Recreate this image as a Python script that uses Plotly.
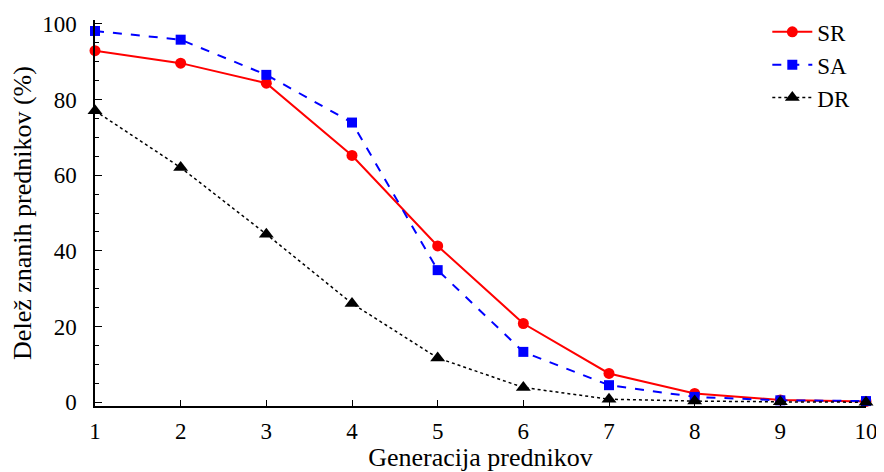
import plotly.graph_objects as go

generations = [1, 2, 3, 4, 5, 6, 7, 8, 9, 10]
sr = [92.9, 89.6, 84.3, 65.2, 41.3, 20.8, 7.6, 2.3, 0.6, 0.2]
sa = [98.1, 95.8, 86.5, 73.9, 34.9, 13.3, 4.5, 1.4, 0.5, 0.3]
dr = [77.0, 62.0, 44.4, 26.1, 11.7, 3.9, 0.8, 0.3, 0.1, 0.0]
y_ticks = [0, 20, 40, 60, 80, 100]

font_family = "Liberation Serif, Times New Roman, Times, serif"
tick_font = dict(family=font_family, size=23, color="black")

fig = go.Figure()
fig.add_trace(go.Scatter(x=generations, y=sr, name="SR", mode="lines+markers",
                         line=dict(color="#ff0000", width=2, dash="solid"),
                         marker=dict(symbol="circle", size=11, color="#ff0000"),
                         cliponaxis=False))
fig.add_trace(go.Scatter(x=generations, y=sa, name="SA", mode="lines+markers",
                         line=dict(color="#0000ff", width=2, dash="dash"),
                         marker=dict(symbol="square", size=10, color="#0000ff"),
                         cliponaxis=False))
fig.add_trace(go.Scatter(x=generations, y=dr, name="DR", mode="lines+markers",
                         line=dict(color="#000000", width=1.5, dash="dot"),
                         marker=dict(symbol="triangle-up", size=13, color="#000000"),
                         cliponaxis=False))

# page body has an 8px margin, so the figure is 876x464 placed at (8, 8)
fig.update_layout(
    template="none",
    width=876, height=464,
    margin=dict(l=87, r=18, t=12, b=66, autoexpand=False),
    paper_bgcolor="white", plot_bgcolor="white",
    font=dict(family=font_family, size=21.5, color="black"),
    showlegend=True,
    legend=dict(x=0.872, y=1.025, xanchor="left", yanchor="top",
                bgcolor="rgba(0,0,0,0)", borderwidth=0,
                font=dict(family=font_family, size=23, color="black"),
                itemwidth=40, tracegroupgap=0),
)
fig.update_xaxes(range=[1, 10], tickvals=generations, ticks="inside", ticklen=6,
                 tickcolor="black", tickwidth=1.2, showline=True, linecolor="black",
                 linewidth=1.5, showgrid=False, zeroline=False, automargin=False,
                 tickfont=tick_font, ticklabelstandoff=4, mirror=False,
                 title=dict(text="Generacija prednikov", standoff=14))
fig.update_yaxes(range=[-1, 101], tickvals=y_ticks, ticks="inside", ticklen=7,
                 tickcolor="black", tickwidth=1.2, showline=True, linecolor="black",
                 linewidth=1.5, showgrid=False, zeroline=False, automargin=False,
                 tickfont=tick_font, ticklabelstandoff=12, mirror=False,
                 minor=dict(dtick=5, tick0=0, ticks="inside", ticklen=4,
                            tickcolor="black", tickwidth=1.2, showgrid=False),
                 title=dict(text="Delež znanih prednikov (%)", standoff=6))

fig.write_html("out.html")
